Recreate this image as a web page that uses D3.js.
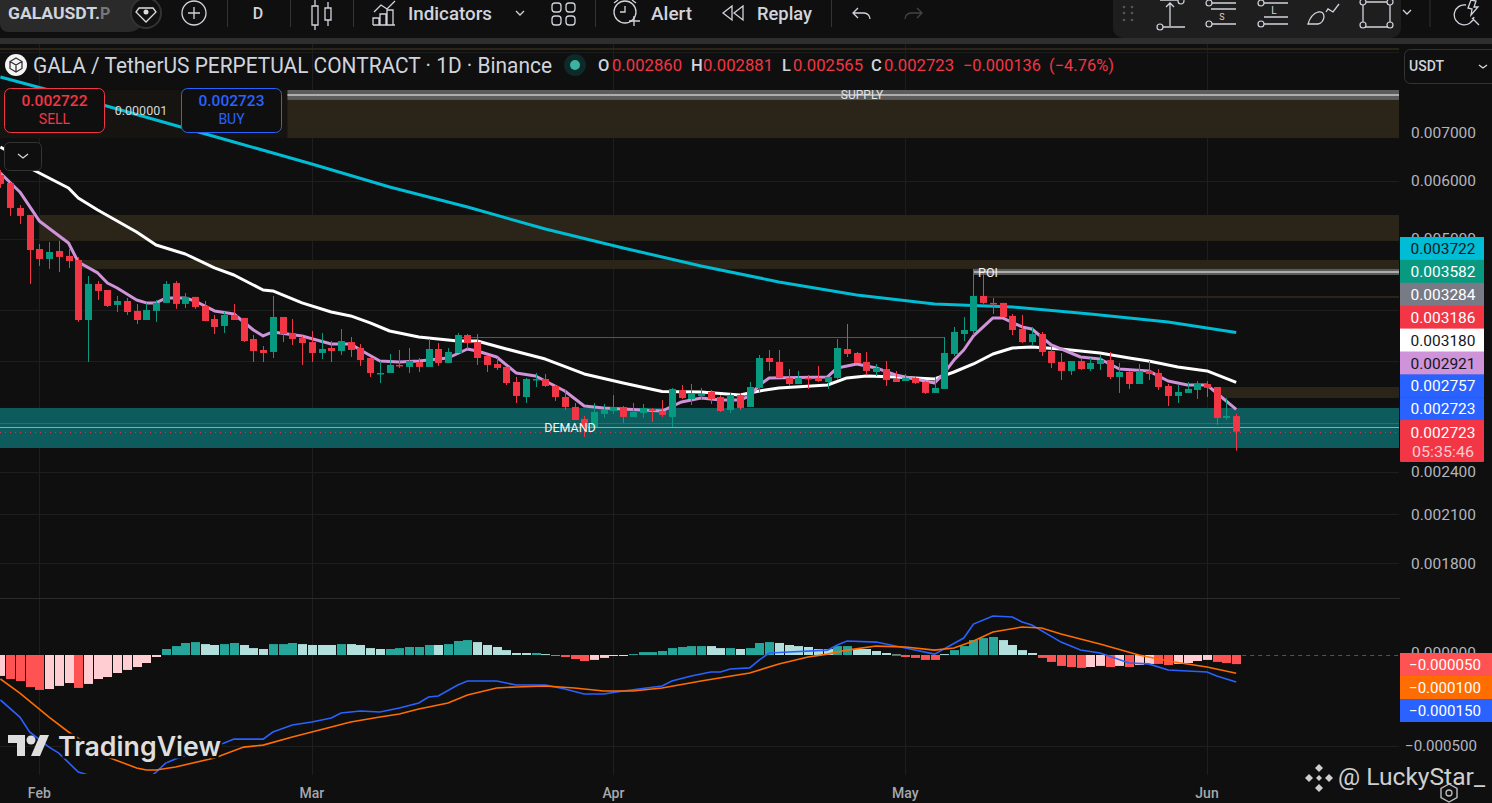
<!DOCTYPE html>
<html><head><meta charset="utf-8">
<style>html,body{margin:0;padding:0;background:#0f0f0f;overflow:hidden}svg{display:block;font-family:Roboto,sans-serif}</style>
<script src="https://cdn.jsdelivr.net/npm/d3@7"></script></head><body><svg id="c" width="1492" height="803"></svg>
<script>
// Daily candles, 28 Jan to 4 Jun
const opens=[.006113,.005961,.005510,.005390,.004841,.004692,.004811,.004737,.004677,.003871,
.004337,.004255,.004059,.004110,.003983,.003871,.003983,.004085,.004350,.004072,
.004163,.004046,.003883,.003799,.003933,.003896,.003646,.003522,.003500,.003908,
.003716,.003657,.003611,.003489,.003544,.003511,.003611,.003544,.003434,.003266,
.003276,.003360,.003339,.003391,.003339,.003533,.003381,.003489,.003692,.003611,
.003456,.003370,.003339,.003184,.003037,.003204,.003214,.003144,.003037,.002943,
.002834,.002763,.002879,.002906,.002943,.002852,.002888,.002924,.002906,.002852,
.003105,.003018,.003047,.003086,.003037,.002915,.003056,.002943,.003125,.003434,
.003391,.003225,.003164,.003225,.003225,.003184,.003225,.003533,.003489,.003391,
.003286,.003317,.003214,.003194,.003225,.003184,.003076,.003115,.003478,.003704,
.003739,.004176,.004085,.004085,.003921,.003763,.003611,.003704,.003511,.003391,
.003297,.003402,.003317,.003370,.003412,.003235,.003286,.003164,.003297,.003276,
.003144,.003047,.003076,.003105,.003164,.003134,.002843,.002860];
const highs=[.006210,.005980,.005562,.005390,.004919,.004950,.004966,.004841,.004722,.004447,
.004377,.004255,.004176,.004149,.004072,.004085,.004123,.004377,.004377,.004215,
.004163,.004110,.003933,.003970,.004072,.003896,.003692,.003566,.004176,.003908,
.003883,.003681,.003739,.003716,.003623,.003763,.003669,.003589,.003434,.003402,
.003478,.003522,.003544,.003434,.003646,.003600,.003544,.003716,.003704,.003704,
.003456,.003434,.003339,.003235,.003225,.003276,.003266,.003154,.003105,.002980,
.002861,.002980,.002971,.003056,.002952,.002980,.002971,.002934,.003008,.003125,
.003154,.003164,.003125,.003105,.003056,.003076,.003076,.003184,.003467,.003522,
.003522,.003317,.003297,.003255,.003349,.003235,.003646,.003823,.003500,.003500,
.003370,.003402,.003297,.003266,.003235,.003194,.003235,.003669,.003787,.003908,
.004547,.004490,.004149,.004085,.003945,.003933,.003787,.003728,.003566,.003489,
.003402,.003423,.003434,.003467,.003500,.003381,.003297,.003370,.003402,.003317,
.003164,.003154,.003184,.003194,.003194,.003134,.003027,.002881];
const lows=[.005868,.005373,.005239,.004337,.004590,.004547,.004504,.004561,.003847,.003391,
.004123,.004033,.003970,.003933,.003823,.003871,.003847,.004085,.004008,.004020,
.004008,.003859,.003704,.003716,.003871,.003611,.003391,.003391,.003434,.003611,
.003578,.003360,.003391,.003423,.003391,.003467,.003445,.003349,.003235,.003174,
.003276,.003328,.003276,.003286,.003339,.003349,.003381,.003489,.003533,.003360,
.003286,.003307,.003154,.002980,.002980,.003134,.003134,.002999,.002915,.002825,
.002678,.002763,.002843,.002879,.002799,.002852,.002843,.002807,.002852,.002763,
.003018,.002961,.003008,.002971,.002897,.002888,.002915,.002943,.003086,.003297,
.003225,.003144,.003164,.003115,.003184,.003115,.003204,.003445,.003381,.003255,
.003245,.003144,.003184,.003194,.003164,.003066,.003076,.003115,.003456,.003623,
.003692,.004072,.003945,.003908,.003692,.003600,.003566,.003456,.003328,.003204,
.003255,.003307,.003297,.003307,.003214,.003076,.003115,.003164,.003204,.003105,
.002952,.002980,.003076,.003018,.003037,.002781,.002825,.002565];
const closes=[.005943,.005510,.005373,.004826,.004692,.004796,.004722,.004662,.003871,.004337,
.004242,.004046,.004110,.003970,.003871,.003995,.004085,.004337,.004072,.004163,
.004033,.003859,.003787,.003933,.003871,.003623,.003511,.003489,.003908,.003704,
.003646,.003600,.003489,.003533,.003511,.003623,.003522,.003412,.003276,.003276,
.003360,.003349,.003402,.003339,.003533,.003381,.003500,.003692,.003600,.003434,
.003360,.003328,.003174,.003047,.003214,.003214,.003144,.003037,.002943,.002825,
.002755,.002897,.002915,.002943,.002852,.002897,.002934,.002906,.002870,.003115,
.003027,.003066,.003066,.003018,.002906,.003056,.002934,.003134,.003434,.003391,
.003225,.003164,.003225,.003214,.003194,.003235,.003544,.003478,.003381,.003297,
.003328,.003204,.003184,.003225,.003174,.003076,.003125,.003489,.003728,.003751,
.004176,.004085,.004072,.003908,.003751,.003611,.003704,.003500,.003381,.003297,
.003402,.003317,.003381,.003412,.003235,.003286,.003164,.003297,.003266,.003134,
.003047,.003086,.003115,.003164,.003125,.002843,.002861,.002723];

// Moving averages: bar number, value
const longMaBars=[0,8,16,24,32,40,48,56,64,72,80,88,96,104,112,120,127];
const longMaVals=[.008325,.007792,.007270,.006783,.006329,.005887,.005527,.005156,.004857,.004590,.004364,.004189,.004072,.004033,.003945,.003847,.003722];
const midMaBars=[0,2,3,7,8,10,14,16,19,22,24,27,28,31,34,36,38,40,43,47,49,52,56,60,64,68,72,76,78,80,85,87,89,92,96,98,100,102,104,106,109,113,116,118,121,124,127];
const midMaVals=[.006677,.006449,.006249,.005868,.005685,.005475,.005108,.004903,.004766,.004561,.004461,.004255,.004242,.004085,.003970,.003921,.003835,.003739,.003669,.003623,.003623,.003533,.003423,.003266,.003174,.003090,.003086,.003056,.003095,.003125,.003154,.003225,.003245,.003235,.003214,.003286,.003370,.003478,.003544,.003555,.003533,.003489,.003434,.003402,.003339,.003297,.003180];
const fastMaBars=[0,2,4,7,8,10,11,12,14,15,16,17,19,20,22,24,26,27,28,31,34,36,37,39,41,43,46,48,49,51,53,55,58,60,62,68,70,72,74,76,77,78,79,85,86,88,90,92,95,96,97,98,99,100,102,103,105,106,108,111,113,115,118,120,122,124,127];
const fastMaVals=[.006151,.005795,.005289,.004934,.004648,.004490,.004350,.004282,.004123,.004085,.004085,.004149,.004149,.004110,.003983,.003945,.003751,.003681,.003728,.003681,.003589,.003589,.003522,.003402,.003391,.003402,.003434,.003533,.003511,.003445,.003276,.003245,.003095,.002952,.002934,.002906,.002990,.003027,.003008,.003008,.003047,.003154,.003225,.003235,.003328,.003370,.003328,.003255,.003194,.003174,.003276,.003412,.003522,.003681,.003896,.003896,.003787,.003763,.003578,.003445,.003423,.003317,.003297,.003194,.003154,.003154,.002921];

// MACD pane
const histVals=[-.000115,-.000132,-.000143,-.000176,-.000192,-.000187,-.000170,-.000154,-.000181,-.000159,
-.000132,-.000121,-.000099,-.000082,-.000066,-.000044,-.000011,.000033,.000049,.000066,
.000071,.000060,.000055,.000060,.000066,.000055,.000038,.000033,.000060,.000060,
.000066,.000060,.000055,.000055,.000055,.000060,.000060,.000055,.000038,.000033,
.000033,.000038,.000044,.000044,.000055,.000055,.000060,.000077,.000082,.000071,
.000055,.000044,.000027,.000011,.000011,.000011,.000005,-.000005,-.000011,-.000022,
-.000033,-.000027,-.000016,-.000005,-.000005,.000005,.000016,.000016,.000022,.000038,
.000044,.000049,.000049,.000049,.000038,.000038,.000033,.000038,.000066,.000071,
.000066,.000055,.000049,.000044,.000033,.000033,.000049,.000049,.000033,.000033,
.000022,.000011,.000003,-.000011,-.000016,-.000027,-.000027,.000005,.000027,.000049,
.000082,.000093,.000099,.000082,.000055,.000027,.000011,-.000016,-.000038,-.000060,
-.000066,-.000071,-.000066,-.000060,-.000066,-.000060,-.000066,-.000055,-.000049,-.000049,
-.000055,-.000049,-.000044,-.000033,-.000027,-.000038,-.000044,-.000050];
// 1 = momentum growing in the bar's direction, 0 = fading
const histGrowing=[0,1,1,1,1,0,0,0,1,0,0,0,0,0,0,0,0,1,1,1,1,0,0,1,1,0,0,0,1,1,1,0,0,0,0,1,0,0,0,0,1,1,1,1,1,0,1,1,1,0,0,0,0,0,0,1,0,1,1,1,1,0,0,0,0,1,1,1,1,1,1,1,1,0,0,1,0,1,1,1,0,0,0,0,0,0,1,1,0,0,0,0,0,1,1,1,1,0,1,1,1,1,1,0,0,0,0,1,1,1,1,1,0,0,1,0,1,0,0,1,1,0,0,0,0,1,1,1];
const macdBars=[0,2,3,5,6,8,9,11,13,15,16,17,18,20,23,24,27,28,30,32,34,35,37,39,41,43,44,45,47,48,51,53,56,58,60,62,64,68,69,71,73,74,75,77,78,79,85,86,87,90,93,96,99,100,102,104,105,106,109,111,113,116,118,120,124,125,127];
const macdVals=[-.000247,-.000341,-.000423,-.000506,-.000539,-.000643,-.000659,-.000714,-.000753,-.000687,-.000643,-.000593,-.000571,-.000533,-.000484,-.000462,-.000462,-.000423,-.000385,-.000368,-.000346,-.000319,-.000308,-.000313,-.000291,-.000264,-.000231,-.000225,-.000165,-.000143,-.000143,-.000165,-.000165,-.000187,-.000214,-.000214,-.000198,-.000170,-.000143,-.000115,-.000093,-.000093,-.000077,-.000071,-.000027,.000011,.000027,.000055,.000077,.000071,.000038,.000005,.000093,.000170,.000214,.000209,.000181,.000165,.000071,.000027,.000011,-.000044,-.000049,-.000082,-.000093,-.000115,-.000148];
const signalBars=[0,2,5,7,11,14,15,16,18,22,25,27,30,34,36,39,41,43,46,48,51,53,56,59,62,65,68,72,77,80,83,85,87,90,93,96,98,100,102,105,107,109,113,117,120,124,127];
const signalVals=[-.000132,-.000209,-.000341,-.000423,-.000560,-.000621,-.000632,-.000632,-.000615,-.000566,-.000506,-.000495,-.000451,-.000396,-.000368,-.000341,-.000324,-.000297,-.000264,-.000220,-.000181,-.000176,-.000170,-.000181,-.000198,-.000198,-.000181,-.000143,-.000099,-.000049,-.000011,.000005,.000027,.000049,.000044,.000027,.000038,.000077,.000126,.000154,.000148,.000115,.000060,0,-.000033,-.000066,-.000100];

// Axis labels
const priceTicks=[.007,.006,.005,.004,.0034,.0028,.0024,.0021,.0018];
const visibleTicks=[.007,.006,.005,.0024,.0021,.0018];
const macdTick=-.0005;
const monthLabels=["Feb","Mar","Apr","May","Jun"];
const monthBars=[4,32,63,93,124];
const priceTags=["0.003722","0.003582","0.003284","0.003186","0.003180","0.002921","0.002757","0.002723"];
const macdTags=["−0.000050","−0.000100","−0.000150"];

// Drawn zones: [low price, high price, start bar]
const zones=[[.006869,.007743,29.5],[.004966,.005390,4],[.004547,.004677,8],[.003027,.003134,125]];
const demandZone=[.002586,.002934];
const pane={right:1399,top:44,split:598,bottom:774};

const svg=d3.select("#c");
const x=d3.scaleLinear().domain([0,127]).range([0.4,1236.2]);
const y=d3.scaleLog().domain([.007,.0018]).range([132,563]);
const yM=d3.scaleLinear().domain([0,-.0005]).range([655,746]);
const fmt=d3.format(".6f");
const defs=svg.append("defs");
defs.append("clipPath").attr("id","pp").append("rect").attr("x",0).attr("y",pane.top).attr("width",pane.right).attr("height",pane.split-pane.top);
defs.append("clipPath").attr("id","mp").append("rect").attr("x",0).attr("y",pane.split).attr("width",pane.right).attr("height",pane.bottom-pane.split);
svg.append("rect").attr("width",1492).attr("height",803).attr("fill","#0f0f0f");
const crisp=v=>Math.round(v)+.5;
const txt=(g,X,Y,s,size,fill,anchor="start",weight=400,len=null)=>{const t=g.append("text").attr("x",X).attr("y",Y).attr("font-size",size).attr("fill",fill).attr("text-anchor",anchor).attr("font-weight",weight).attr("dominant-baseline","central").text(s);if(len)t.attr("textLength",len).attr("lengthAdjust","spacingAndGlyphs");return t;};

// grid
const grid=svg.append("g").attr("stroke","#1e1e1e").attr("stroke-width",1);
grid.selectAll("line.h").data(priceTicks).join("line").attr("x1",0).attr("x2",pane.right).attr("y1",d=>crisp(y(d))).attr("y2",d=>crisp(y(d)));
grid.selectAll("line.v").data(monthBars).join("line").attr("x1",d=>crisp(x(d))).attr("x2",d=>crisp(x(d))).attr("y1",pane.top).attr("y2",775);
grid.append("line").attr("x1",0).attr("x2",pane.right).attr("y1",crisp(yM(macdTick))).attr("y2",crisp(yM(macdTick)));
svg.append("line").attr("x1",0).attr("x2",1400).attr("y1",598.5).attr("y2",598.5).attr("stroke","#2b2b2b");
svg.append("rect").attr("x",0).attr("y",48).attr("width",pane.right).attr("height",2).attr("fill","#2a2518");
svg.append("rect").attr("x",0).attr("y",52).attr("width",pane.right).attr("height",1).attr("fill","#1c1c1c");

// zones
const pp=svg.append("g").attr("clip-path","url(#pp)");
pp.append("rect").attr("x",0).attr("y",y(.007991)).attr("width",289).attr("height",y(.006869)-y(.007991)).attr("fill","#151410");
pp.append("rect").attr("x",x(29.5)).attr("y",y(.007991)).attr("width",pane.right-x(29.5)).attr("height",y(.007743)-y(.007991)).attr("fill","#5c5c5c");
pp.append("line").attr("x1",x(29.5)).attr("x2",pane.right).attr("y1",y(.007866)).attr("y2",y(.007866)).attr("stroke","#c8c8c8").attr("stroke-width",1.5);
pp.selectAll("rect.z").data(zones).join("rect").attr("class","z").attr("x",d=>x(d[2])).attr("width",d=>pane.right-x(d[2])).attr("y",d=>y(d[1])).attr("height",d=>y(d[0])-y(d[1])).attr("fill","#2a2518");
pp.append("rect").attr("x",0).attr("width",pane.right).attr("y",y(demandZone[1])).attr("height",y(demandZone[0])-y(demandZone[1])).attr("fill","#0d5b5c");
pp.append("rect").attr("x",x(100)).attr("width",pane.right-x(100)).attr("y",y(.004547)).attr("height",y(.004461)-y(.004547)).attr("fill","#5c5c5c");
pp.append("line").attr("x1",x(100)).attr("x2",pane.right).attr("y1",y(.004504)).attr("y2",y(.004504)).attr("stroke","#c8c8c8").attr("stroke-width",1.5);
pp.append("rect").attr("x",x(101)).attr("width",pane.right-x(101)).attr("y",y(.004176)).attr("height",y(.004149)-y(.004176)).attr("fill","#2a2518");
pp.append("line").attr("x1",x(47)).attr("x2",x(97)).attr("y1",crisp(y(.003669))).attr("y2",crisp(y(.003669))).attr("stroke","#555");
pp.append("line").attr("x1",0).attr("x2",pane.right).attr("y1",crisp(y(.002759))).attr("y2",crisp(y(.002759))).attr("stroke","#7fb0ae");
pp.append("line").attr("x1",0).attr("x2",pane.right).attr("y1",crisp(y(.002723))).attr("y2",crisp(y(.002723))).attr("stroke","#f23645").attr("stroke-dasharray","1 4").attr("stroke-opacity",.85);
pp.append("line").attr("x1",0).attr("x2",pane.right).attr("y1",crisp(y(.0028))).attr("y2",crisp(y(.0028))).attr("stroke","#2a6f70");

// MACD
const mp=svg.append("g").attr("clip-path","url(#mp)");
const hc=(v,g)=>v>=0?(g?"#26a69a":"#b2dfdb"):(g?"#ff5252":"#ffcdd2");
mp.selectAll("rect.h").data(histVals).join("rect").attr("class","h").attr("x",(d,i)=>Math.round(x(i))-4).attr("width",9).attr("y",d=>Math.min(yM(0),yM(d))).attr("height",d=>Math.max(1,Math.abs(yM(d)-yM(0)))).attr("fill",(d,i)=>hc(d,histGrowing[i]));
const lm=d3.line().x(d=>x(d[0])).y(d=>yM(d[1]));
mp.append("path").attr("d",lm(macdBars.map((b,i)=>[b,macdVals[i]]))).attr("fill","none").attr("stroke","#2962ff").attr("stroke-width",1.6);
mp.append("path").attr("d",lm(signalBars.map((b,i)=>[b,signalVals[i]]))).attr("fill","none").attr("stroke","#ff6d00").attr("stroke-width",1.6);
svg.append("line").attr("x1",x(127)+6).attr("x2",1400).attr("y1",655.5).attr("y2",655.5).attr("stroke","#555").attr("stroke-dasharray","4 4");

// moving averages
const lp=d3.line().x(d=>x(d[0])).y(d=>y(d[1]));
const ma=(b,v,c)=>pp.append("path").attr("d",lp(b.map((k,i)=>[k,v[i]]))).attr("fill","none").attr("stroke",c).attr("stroke-width",3).attr("stroke-linejoin","round");
ma(longMaBars,longMaVals,"#00bcd4");ma(midMaBars,midMaVals,"#ffffff");ma(fastMaBars,fastMaVals,"#ce93d8");

// candles
const up="#089981",dn="#f23645";
const col=i=>closes[i]>=opens[i]?up:dn;
const cg=pp.append("g");
cg.selectAll("line").data(d3.range(opens.length)).join("line").attr("x1",i=>Math.round(x(i))+.5).attr("x2",i=>Math.round(x(i))+.5).attr("y1",i=>y(highs[i])).attr("y2",i=>y(lows[i])).attr("stroke",col);
cg.selectAll("rect").data(d3.range(opens.length)).join("rect").attr("x",i=>Math.round(x(i))-3).attr("width",7).attr("y",i=>Math.min(y(opens[i]),y(closes[i]))).attr("height",i=>Math.max(1.5,Math.abs(y(opens[i])-y(closes[i])))).attr("fill",col);

// drawing labels
txt(svg,862,94.5,"SUPPLY",12,"#e4e4e4","middle");
txt(svg,988,272.5,"POI",12.5,"#f0f0f0","middle");
txt(svg,570,427,"DEMAND",12.5,"#f4f4f4","middle");

// right scale
const rs=svg.append("g");
visibleTicks.forEach(t=>txt(rs,1443.5,y(t)+.5,fmt(t),15,"#b2b5be","middle",400,65));
txt(rs,1443.5,653,"0.000000",15,"#b2b5be","middle",400,65);
txt(rs,1441,746,"−0.000500",15,"#b2b5be","middle",400,72);
const tags=[["#00bcd4","#131722"],["#089981","#fff"],["#787b86","#fff"],["#f23645","#fff"],["#ffffff","#131722"],["#ce93d8","#131722"],["#2962ff","#fff"],["#2962ff","#fff"]];
tags.forEach((t,i)=>{const top=237+i*22.9;rs.append("rect").attr("x",1400).attr("y",top).attr("width",84).attr("height",23.4).attr("fill",t[0]);txt(rs,1443,top+12,priceTags[i],15,t[1],"middle",400,65);});
rs.append("rect").attr("x",1400).attr("y",420).attr("width",84).attr("height",42).attr("fill","#f23645").attr("rx",1);
txt(rs,1443,432.5,"0.002723",15,"#fff","middle",400,65);
txt(rs,1443,451.5,"05:35:46",14,"#ffc9ce","middle",400,62);
["#ff5252","#ff6d00","#2962ff"].forEach((c,i)=>{const top=653+i*23;rs.append("rect").attr("x",1400).attr("y",top).attr("width",92).attr("height",23).attr("fill",c);txt(rs,1445,top+12,macdTags[i],15,"#fff","middle",400,72);});

// time axis
const ta=svg.append("g");
monthBars.forEach((b,i)=>txt(ta,x(b),792.5,monthLabels[i],14,"#a6a8ae","middle",500));

// header legend
const hd=svg.append("g");
hd.append("circle").attr("cx",16).attr("cy",65).attr("r",11).attr("fill","#f5f5f5");
hd.append("path").attr("d","M16 58l6 3.5v7l-6 3.5-6-3.5v-7zM10 61.5l6 3.5 6-3.5M16 65v7").attr("fill","none").attr("stroke","#333").attr("stroke-width",1.3);
txt(hd,33,65,"GALA / TetherUS PERPETUAL CONTRACT · 1D · Binance",22,"#d1d4dc","start",400,519);
hd.append("circle").attr("cx",575).attr("cy",65).attr("r",11).attr("fill","#0c2a27");
hd.append("circle").attr("cx",575).attr("cy",65).attr("r",5).attr("fill","#3bb3a0");
const legendLetters=["O","H","L","C"];
const legendValues=["0.002860","0.002881","0.002565","0.002723"];
[[598,612],[691,703],[782,793],[871,884]].forEach((p,i)=>{txt(hd,p[0],65,legendLetters[i],16.5,"#d1d4dc","start",500);txt(hd,p[1],65,legendValues[i],16.5,"#f23645","start",400,70);});
txt(hd,963,65,"−0.000136",16.5,"#f23645","start",400,78);
txt(hd,1049,65,"(−4.76%)",16.5,"#f23645","start",400,65);

// sell / buy boxes
const box=(X,c,price,label)=>{hd.append("rect").attr("x",X+.5).attr("y",88.5).attr("width",100).attr("height",44).attr("rx",6).attr("fill","#0f0f0f").attr("stroke",c);
txt(hd,X+50.5,100.5,price,15,c,"middle",500,66);txt(hd,X+50.5,118.5,label,14,c,"middle");};
box(4,"#f23645","0.002722","SELL");box(181,"#2962ff","0.002723","BUY");
txt(hd,141,110,"0.000001",12.5,"#d8d8d8","middle");
hd.append("rect").attr("x",4.5).attr("y",142.5).attr("width",37).attr("height",28).attr("rx",5).attr("fill","#0f0f0f").attr("stroke","#333");
hd.append("path").attr("d","M18 154l5 4 5-4").attr("fill","none").attr("stroke","#ddd").attr("stroke-width",1.2);
hd.append("rect").attr("x",1404.5).attr("y",49.5).attr("width",100).attr("height",34).attr("rx",6).attr("fill","#0f0f0f").attr("stroke","#333");
txt(hd,1409,66,"USDT",14,"#d1d4dc","start",500);
hd.append("path").attr("d","M1479 65l4 3 4-3").attr("fill","none").attr("stroke","#ddd").attr("stroke-width",1.3);

// toolbar
const tb=svg.append("g");
tb.append("rect").attr("x",0).attr("y",0).attr("width",1492).attr("height",38).attr("fill","#0f0f0f");
tb.append("rect").attr("x",0).attr("y",38).attr("width",1492).attr("height",6).attr("fill","#2e2e2e");
tb.append("path").attr("d","M0 0H146V14A18 18 0 0 1 128 32H8A8 8 0 0 1 0 24Z").attr("fill","#2a2a2a");
txt(tb,8,13,"GALAUSDT.",16,"#d1d4dc","start",700,92);
txt(tb,100,13,"P",16,"#777","start",700);
tb.append("circle").attr("cx",146).attr("cy",13).attr("r",15).attr("fill","#111").attr("stroke","#333").attr("stroke-width",2);
tb.append("path").attr("d","M139 8h14l3 4-10 10-10-10z").attr("fill","none").attr("stroke","#ddd").attr("stroke-width",1.3);
tb.append("circle").attr("cx",146).attr("cy",12).attr("r",2.5).attr("fill","#ddd");
const ic=(d,c="#d1d4dc",w=1.3)=>tb.append("path").attr("d",d).attr("fill","none").attr("stroke",c).attr("stroke-width",w);
tb.append("circle").attr("cx",194).attr("cy",13).attr("r",12).attr("fill","none").attr("stroke","#d1d4dc").attr("stroke-width",1.3);
ic("M194 7v12M188 13h12");
txt(tb,258,13,"D",16,"#d1d4dc","middle",500);
[227,290,353,595,831].forEach(v=>tb.append("line").attr("x1",v+.5).attr("x2",v+.5).attr("y1",0).attr("y2",27).attr("stroke","#333"));
ic("M312 6h6v19h-6zM315 0v6M315 25v5M325 8h6v12h-6zM328 2v6M328 20v6");
ic("M373 25v-7h6v7M380 25v-11h6v11M387 25v-15h6v15M373 25h22M374 12l7-7 6 4 8-8");
txt(tb,408,13,"Indicators",18,"#d1d4dc","start",500,84);
ic("M516 11l4 4 4-4");
[[552,3],[566,3],[552,16],[566,16]].forEach(p=>tb.append("rect").attr("x",p[0]).attr("y",p[1]).attr("width",9).attr("height",9).attr("rx",3).attr("fill","none").attr("stroke","#d1d4dc").attr("stroke-width",1.3));
tb.append("circle").attr("cx",625).attr("cy",12).attr("r",11).attr("fill","none").attr("stroke","#d1d4dc").attr("stroke-width",1.3);
ic("M625 6v6h-5M614 3l4-3M632 0l4 3M634 16v10M629 21h11");
txt(tb,651,13,"Alert",18,"#d1d4dc","start",500,41);
ic("M732 6l-9 7 9 7zM743 6l-9 7 9 7z");
txt(tb,757,13,"Replay",18,"#d1d4dc","start",500,55);
ic("M858 8l-5 5 5 5M853 13h11a6 6 0 0 1 6 6");
ic("M917 8l5 5-5 5M922 13h-11a6 6 0 0 0-6 6","#444");
tb.append("path").attr("d","M1113 0H1401V28A10 10 0 0 1 1391 38H1123A10 10 0 0 1 1113 28Z").attr("fill","#1e1e1e");
[[1124,7],[1132,7],[1124,13],[1132,13],[1124,20],[1132,20]].forEach(p=>tb.append("circle").attr("cx",p[0]).attr("cy",p[1]).attr("r",1.3).attr("fill","#555"));
const node=(a,b)=>tb.append("circle").attr("cx",a).attr("cy",b).attr("r",3).attr("fill","#1e1e1e").attr("stroke","#d1d4dc").attr("stroke-width",1.2);
ic("M1160 0h22M1170 26V4M1166 7l4-4 4 4M1163 27h22");node(1160,27);node(1181,1);
ic("M1212 3h24M1211 9h25M1212 24h24");node(1209,3);node(1209,24);txt(tb,1222,17,"S",9,"#d1d4dc","middle");
ic("M1264 3h24M1264 17h24M1264 24h24");node(1261,3);node(1261,24);txt(tb,1274,10,"L",10,"#d1d4dc","middle");
ic("M1308 24q3-10 10-12q6-1 6 5q-1 6-6 7zM1326 12l2-3 5 3 6-8");
ic("M1363 2h27v25h-27z");[[1363,2],[1390,2],[1363,25],[1390,25]].forEach(p=>node(p[0],p[1]));
ic("M1403 10l4 4 4-4");
tb.append("line").attr("x1",1430).attr("x2",1430).attr("y1",0).attr("y2",27).attr("stroke","#333");
ic("M1466 5a10 10 0 1 0 8 12M1472 18l7 7M1468 8l3-8 5 1-2 6h4l-7 8 1-6z");

// watermarks
const wm=svg.append("g");
wm.append("path").attr("d","M8 735h17v21h-8v-13h-9z").attr("fill","#dedede");
wm.append("circle").attr("cx",31).attr("cy",740).attr("r",4.5).attr("fill","#dedede");
wm.append("path").attr("d","M40 735h9l-9 21h-9z").attr("fill","#dedede");
txt(wm,58,746,"TradingView",27,"#dedede","start",600,163).style("font-family","Inter").attr("stroke","#0f0f0f").attr("stroke-width",5).attr("paint-order","stroke");
txt(wm,1338,777,"@ LuckyStar_",24,"#cfcfcf","start",400,147);
const dia=(cx,cy,s)=>wm.append("path").attr("d",`M${cx} ${cy-s}l${s} ${s}-${s} ${s}-${s}-${s}z`).attr("fill","#cfcfcf");
dia(1319,768,4);dia(1319,788,4);dia(1309,778,4);dia(1329,778,4);dia(1319,778,3);
wm.append("path").attr("d","M1449 784l8 4.5v9l-8 4.5-8-4.5v-9z").attr("fill","none").attr("stroke","#bbb").attr("stroke-width",1.4);
wm.append("circle").attr("cx",1449).attr("cy",793).attr("r",3).attr("fill","none").attr("stroke","#bbb").attr("stroke-width",1.3);
</script></body></html>
